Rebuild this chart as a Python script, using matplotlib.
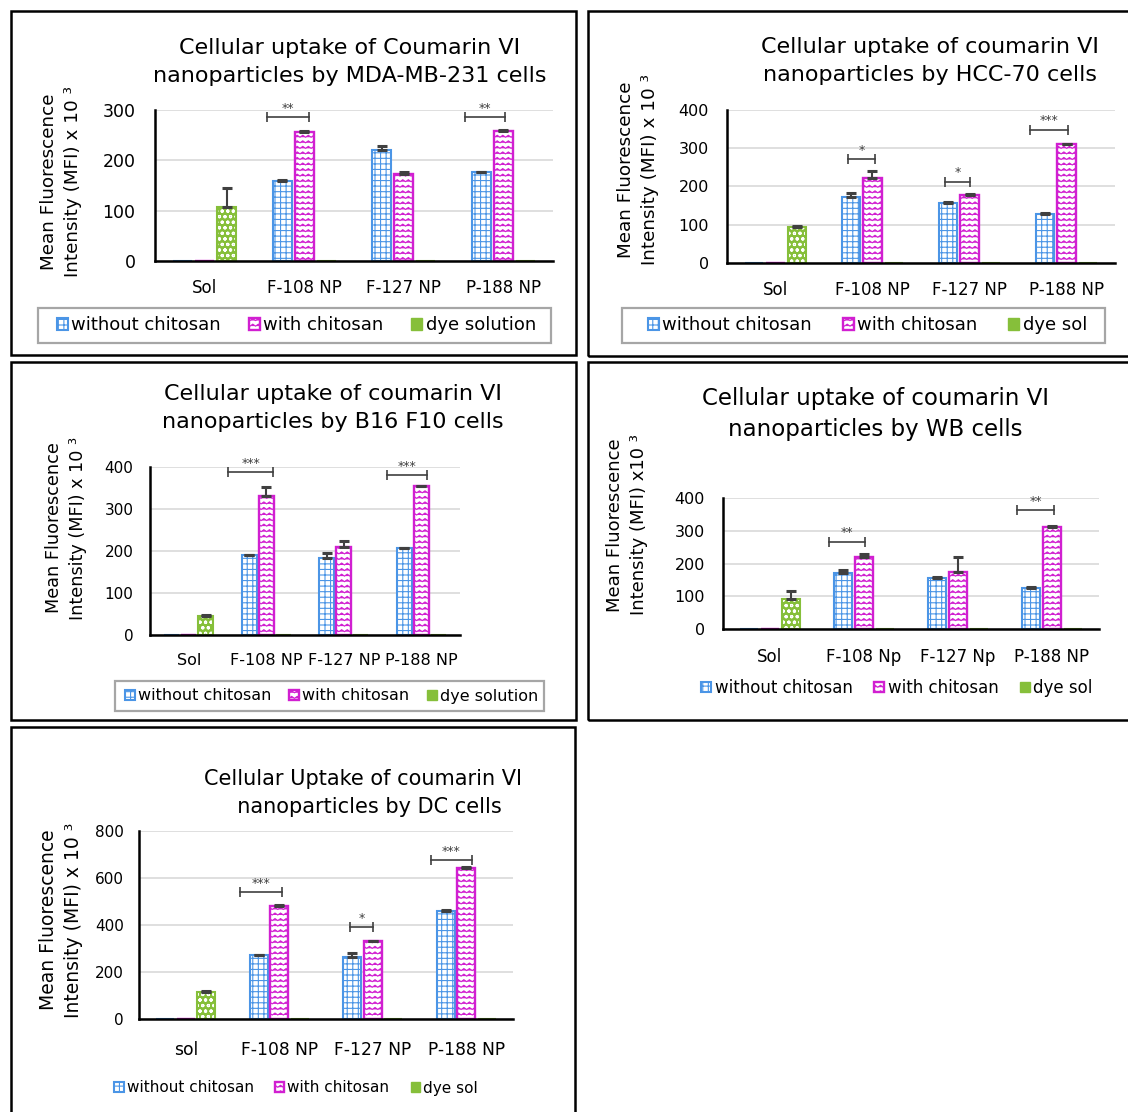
import warnings
import numpy as np
import matplotlib
matplotlib.use("Agg")
import matplotlib.pyplot as plt
import matplotlib.hatch as mhatch
from matplotlib.path import Path
from matplotlib.patches import Rectangle, Patch

warnings.filterwarnings("ignore", message=".*hatch must consist.*")

# ---- data -------------------------------------------------------------
cats_a = ["Sol", "F-108 NP", "F-127 NP", "P-188 NP"]
without_a = [0, 158, 221, 176]
without_err_a = [0, 2, 7, 1]
with_a = [0, 257, 172, 259]
with_err_a = [0, 2, 5, 1]
dye_a = [107, 0, 0, 0]
dye_err_a = [38, 0, 0, 0]
sig_cat_a = [1, 3]
sig_lvl_a = [286, 286]
sig_txt_a = ["**", "**"]

cats_b = ["Sol", "F-108 NP", "F-127 NP", "P-188 NP"]
without_b = [0, 172, 157, 129]
without_err_b = [0, 12, 2, 1]
with_b = [0, 223, 178, 311]
with_err_b = [0, 17, 2, 1]
dye_b = [93, 0, 0, 0]
dye_err_b = [4, 0, 0, 0]
sig_cat_b = [1, 2, 3]
sig_lvl_b = [271, 213, 349]
sig_txt_b = ["*", "*", "***"]

cats_c = ["Sol", "F-108 NP", "F-127 NP", "P-188 NP"]
without_c = [0, 190, 184, 206]
without_err_c = [0, 1, 12, 1]
with_c = [0, 331, 210, 354]
with_err_c = [0, 21, 14, 1]
dye_c = [46, 0, 0, 0]
dye_err_c = [1, 0, 0, 0]
sig_cat_c = [1, 3]
sig_lvl_c = [388, 380]
sig_txt_c = ["***", "***"]

cats_d = ["Sol", "F-108 Np", "F-127 Np", "P-188 NP"]
without_d = [0, 170, 155, 126]
without_err_d = [0, 10, 3, 1]
with_d = [0, 221, 175, 312]
with_err_d = [0, 8, 46, 1]
dye_d = [91, 0, 0, 0]
dye_err_d = [25, 0, 0, 0]
sig_cat_d = [1, 3]
sig_lvl_d = [267, 363]
sig_txt_d = ["**", "**"]

cats_e = ["sol", "F-108 NP", "F-127 NP", "P-188 NP"]
without_e = [0, 272, 265, 460]
without_err_e = [0, 2, 17, 2]
with_e = [0, 482, 332, 644]
with_err_e = [0, 2, 2, 2]
dye_e = [116, 0, 0, 0]
dye_err_e = [2, 0, 0, 0]
sig_cat_e = [1, 2, 3]
sig_lvl_e = [542, 390, 677]
sig_txt_e = ["***", "*", "***"]

legend_long = ["without chitosan", "with chitosan", "dye solution"]
legend_short = ["without chitosan", "with chitosan", "dye sol"]

# ---- style ------------------------------------------------------------
BLUE = "#4B95E6"
MAGENTA = "#D11FD1"
GREEN = "#86BF3A"
DARK = "#404040"
GRID = "#D9D9D9"
W, H = 1128, 1112

plt.rcParams["font.family"] = ["DejaVu Sans"]
plt.rcParams["hatch.linewidth"] = 0.8


class WaveHatch(mhatch.HatchPatternBase):
    # zigzag rows for the "with chitosan" bars, one 'w' = density rows/inch
    def __init__(self, hatch, density):
        self.num_rows = int(hatch.count("w") * density)
        self.n = 2 * self.num_rows + 1
        self.num_vertices = self.num_rows * self.n

    def set_vertices_and_codes(self, vertices, codes):
        xs = np.linspace(0, 1, self.n)
        zig = np.where(np.arange(self.n) % 2 == 0, 0.0, 0.35 / self.num_rows)
        for r in range(self.num_rows):
            sl = slice(r * self.n, (r + 1) * self.n)
            vertices[sl, 0] = xs
            vertices[sl, 1] = (r + 0.3) / self.num_rows + zig
            codes[sl] = Path.LINETO
            codes[r * self.n] = Path.MOVETO


mhatch._hatch_types.append(WaveHatch)


def rect(l, t, r, b):
    return [l / W, 1 - b / H, (r - l) / W, (b - t) / H]


def draw_panel(fig, cats, without, without_err, with_, with_err, dye, dye_err,
               sig_cat, sig_lvl, sig_txt, labels, lay):
    ax = fig.add_axes(rect(*lay["ax"]))
    x = np.arange(len(cats))
    slot, bw = 0.22, 0.19
    series = [(np.array(without), np.array(without_err), -slot),
              (np.array(with_), np.array(with_err), 0.0),
              (np.array(dye), np.array(dye_err), slot)]

    b1 = ax.bar(x - slot, without, bw, facecolor="white", edgecolor=BLUE,
                linewidth=1.5, hatch="+++", zorder=2)
    b2 = ax.bar(x, with_, bw, facecolor="white", edgecolor=MAGENTA,
                linewidth=1.7, hatch="www", zorder=2)
    with plt.rc_context({"hatch.color": "white"}):
        ax.bar(x + slot, dye, bw, color=GREEN, hatch="ooo", zorder=2)
    ax.bar(x + slot, dye, bw, fill=False, edgecolor=GREEN, linewidth=1.5, zorder=2)
    h3 = Patch(facecolor=GREEN, edgecolor=GREEN, linewidth=1.0)

    for vals, errs, off in series:
        m = vals > 0
        ax.errorbar(x[m] + off, vals[m], yerr=[np.zeros(m.sum()), errs[m]],
                    fmt="none", ecolor=DARK, elinewidth=1.5, capsize=3.6,
                    capthick=2.2, zorder=3)

    for c, lvl, txt, (o0, o1) in zip(sig_cat, sig_lvl, sig_txt, lay["spans"]):
        ax.plot([c + o0, c + o1], [lvl, lvl], color=DARK, lw=1.2, zorder=3)
        ax.plot([c + o0, c + o1], [lvl, lvl], ls="none", marker="|", ms=7,
                mew=1.2, color=DARK, zorder=3)
        ax.annotate(txt, ((c + o0 + c + o1) / 2, lvl), xytext=(0, 1.5),
                    textcoords="offset points", ha="center", va="bottom",
                    fontsize=9, color=DARK)

    ax.set_xlim(-0.5, len(cats) - 0.5)
    ax.set_ylim(0, lay["ymax"])
    ax.set_yticks(np.arange(0, lay["ymax"] + 1, lay["ystep"]))
    ax.set_xticks(x, cats)
    ax.tick_params(axis="x", length=0, pad=lay["xpad"], labelsize=lay["xsize"])
    ax.tick_params(axis="y", length=0, pad=lay["ypad"], labelsize=lay["ysize"])
    ax.set_axisbelow(True)
    ax.grid(axis="y", color=GRID, linewidth=1.2)
    for s in ("top", "right"):
        ax.spines[s].set_visible(False)
    ax.spines["left"].set_linewidth(1.8)
    ax.spines["bottom"].set_linewidth(1.8)

    tx, ty = lay["title_xy"]
    fig.text(tx / W, 1 - ty / H, lay["title"], ha="center", va="center",
             multialignment="center", fontsize=lay["title_size"], linespacing=1.45)
    lx, ly = lay["ylab_xy"]
    fig.text(lx / W, 1 - ly / H, lay["ylabel"], ha="center", va="center",
             rotation=90, multialignment="center", fontsize=lay["ylab_size"],
             linespacing=1.4)

    leg = lay["legend"]
    handles = [b1, b2, h3]
    if leg["frame"]:
        l, t, r, b = leg["box"]
        fig.add_artist(Rectangle((l / W, 1 - b / H), (r - l) / W, (b - t) / H,
                                 transform=fig.transFigure, fill=False,
                                 edgecolor="#A6A6A6", linewidth=1.6))
        il, ir = leg["inner"]
        fig.legend(handles, labels, loc="center", ncol=3, mode="expand",
                   bbox_to_anchor=(il / W, 1 - b / H, (ir - il) / W, (b - t) / H),
                   fontsize=leg["size"], frameon=False, handlelength=0.6,
                   handleheight=0.6, handletextpad=0.2, borderpad=0,
                   borderaxespad=0)
    else:
        cx, cy = leg["center"]
        fig.legend(handles, labels, loc="center", ncol=3,
                   bbox_to_anchor=(cx / W, 1 - cy / H), fontsize=leg["size"],
                   frameon=False, handlelength=0.6, handleheight=0.6,
                   handletextpad=0.2, columnspacing=leg["colsp"])
    return ax


YLAB = "Mean Fluorescence\nIntensity (MFI) x 10 \u00b3"

layouts = {
    "a": dict(ax=(155, 110, 553, 261), ymax=300, ystep=100, xpad=13, ypad=14,
              xsize=12, ysize=12.5, spans=[(-0.37, 0.05), (-0.38, 0.02)],
              title="Cellular uptake of Coumarin VI\nnanoparticles by MDA-MB-231 cells",
              title_xy=(350, 62), title_size=16, ylabel=YLAB, ylab_xy=(61, 182),
              ylab_size=13.2,
              legend=dict(frame=True, box=(38, 308, 551, 343), inner=(57, 536),
                          size=13)),
    "b": dict(ax=(727, 110, 1115, 263), ymax=400, ystep=100, xpad=13, ypad=13,
              xsize=12, ysize=11.5, spans=[(-0.25, 0.03), (-0.25, 0.0), (-0.38, 0.02)],
              title="Cellular uptake of coumarin VI\nnanoparticles by HCC-70 cells",
              title_xy=(930, 61), title_size=16, ylabel=YLAB, ylab_xy=(638, 170),
              ylab_size=13.2,
              legend=dict(frame=True, box=(622, 308, 1105, 343), inner=(648, 1087),
                          size=13)),
    "c": dict(ax=(150, 467, 460, 635), ymax=400, ystep=100, xpad=13, ypad=12,
              xsize=11.5, ysize=11, spans=[(-0.49, 0.09), (-0.44, 0.07)],
              title="Cellular uptake of coumarin VI\nnanoparticles by B16 F10 cells",
              title_xy=(333, 408), title_size=16, ylabel=YLAB, ylab_xy=(66, 528),
              ylab_size=12.7,
              legend=dict(frame=True, box=(115, 681, 544, 711), inner=(125, 538),
                          size=11.5)),
    "d": dict(ax=(723, 498, 1099, 629), ymax=400, ystep=100, xpad=14, ypad=13,
              xsize=12, ysize=11.5, spans=[(-0.37, 0.01), (-0.37, 0.02)],
              title="Cellular uptake of coumarin VI\nnanoparticles by WB cells",
              title_xy=(875, 414), title_size=16.5,
              ylabel="Mean Fluorescence\nIntensity (MFI) x10 \u00b3",
              ylab_xy=(627, 525), ylab_size=13,
              legend=dict(frame=False, center=(897, 688), size=12, colsp=1.3)),
    "e": dict(ax=(139, 831, 513, 1019), ymax=800, ystep=200, xpad=16, ypad=11,
              xsize=12.3, ysize=11, spans=[(-0.42, 0.03), (-0.24, 0.0), (-0.38, 0.06)],
              title="Cellular Uptake of coumarin VI\n  nanoparticles by DC cells",
              title_xy=(363, 793), title_size=15, ylabel=YLAB, ylab_xy=(61, 920),
              ylab_size=13.5,
              legend=dict(frame=False, center=(296, 1088), size=11, colsp=1.4)),
}

fig = plt.figure(figsize=(W / 100, H / 100), dpi=100)

# panel frames
for l, t, r, b in [(11, 11, 576, 355), (588, 11, 1140, 356), (11, 362, 576, 720),
                   (588, 362, 1140, 720), (11, 727, 575, 1130)]:
    fig.add_artist(Rectangle((l / W, 1 - b / H), (r - l) / W, (b - t) / H,
                             transform=fig.transFigure, fill=False,
                             edgecolor="black", linewidth=1.8))

draw_panel(fig, cats_a, without_a, without_err_a, with_a, with_err_a, dye_a,
           dye_err_a, sig_cat_a, sig_lvl_a, sig_txt_a, legend_long, layouts["a"])
draw_panel(fig, cats_b, without_b, without_err_b, with_b, with_err_b, dye_b,
           dye_err_b, sig_cat_b, sig_lvl_b, sig_txt_b, legend_short, layouts["b"])
draw_panel(fig, cats_c, without_c, without_err_c, with_c, with_err_c, dye_c,
           dye_err_c, sig_cat_c, sig_lvl_c, sig_txt_c, legend_long, layouts["c"])
draw_panel(fig, cats_d, without_d, without_err_d, with_d, with_err_d, dye_d,
           dye_err_d, sig_cat_d, sig_lvl_d, sig_txt_d, legend_short, layouts["d"])
draw_panel(fig, cats_e, without_e, without_err_e, with_e, with_err_e, dye_e,
           dye_err_e, sig_cat_e, sig_lvl_e, sig_txt_e, legend_short, layouts["e"])

fig.savefig("out.png", dpi=100)
